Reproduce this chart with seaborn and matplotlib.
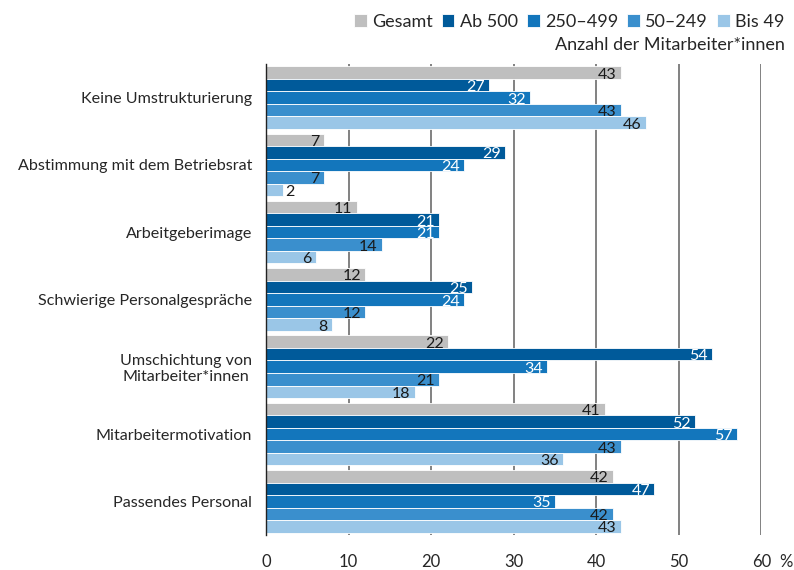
import pandas as pd
import numpy as np
import matplotlib
matplotlib.use("Agg")
import matplotlib.pyplot as plt
import seaborn as sns

# chart data
categories = [
    "Keine Umstrukturierung",
    "Abstimmung mit dem Betriebsrat",
    "Arbeitgeberimage",
    "Schwierige Personalgespräche",
    "Umschichtung von\nMitarbeiter*innen",
    "Mitarbeitermotivation",
    "Passendes Personal",
]
series = ["Gesamt", "Ab 500", "250–499", "50–249", "Bis 49"]
gesamt = [43, 7, 11, 12, 22, 41, 42]
ab500 = [27, 29, 21, 25, 54, 52, 47]
s250_499 = [32, 24, 21, 24, 34, 57, 35]
s50_249 = [43, 7, 14, 12, 21, 43, 42]
bis49 = [46, 2, 6, 8, 18, 36, 43]
x_ticks = [0, 10, 20, 30, 40, 50, 60]

colors = ["#bfbfbf", "#005a9a", "#1376bc", "#3a8fcd", "#9ac6e7"]
label_colors = ["#1a1a1a", "white", "white", "#1a1a1a", "#1a1a1a"]

# long table for seaborn
rows = []
for name, vals in zip(series, [gesamt, ab500, s250_499, s50_249, bis49]):
    for cat, v in zip(categories, vals):
        rows.append({"Kategorie": cat, "Wert": v, "Gruppe": name})
df = pd.DataFrame(rows)

sns.set_style("white")
plt.rcParams["font.family"] = ["Lato", "DejaVu Sans"]

fig = plt.figure(figsize=(7.94, 5.70), dpi=100)
ax = fig.add_axes([0.335, 0.0614, 0.624, 0.8266])

sns.barplot(data=df, y="Kategorie", x="Wert", hue="Gruppe", orient="h",
            palette=colors, width=0.93, edgecolor="white", linewidth=0.6,
            saturation=1, ax=ax, legend=True)

ax.set_xlim(0, 60)
ax.set_ylim(6.5, -0.5)
ax.set_xticks(x_ticks)
ax.set_xticklabels([str(t) for t in x_ticks], fontsize=12)
ax.tick_params(axis="x", length=0, pad=14)
ax.xaxis.grid(True, color="#5f5f5f", linewidth=1.1)
ax.set_axisbelow(True)
ax.set_xlabel("")
ax.set_ylabel("")
# percent sign next to the last tick label
ax.annotate("%", xy=(60, 0), xycoords=("data", "axes fraction"),
            xytext=(13, -14), textcoords="offset points", fontsize=12,
            ha="left", va="top")

# category labels, ticks at group boundaries
ax.set_yticks(range(len(categories)))
ax.set_yticklabels(categories, fontsize=11.6, multialignment="center")
ax.tick_params(axis="y", which="major", length=0, pad=10)
ax.set_yticks(np.arange(-0.5, len(categories), 1), minor=True)
ax.tick_params(axis="y", which="minor", length=5, width=1, color="#222222",
               direction="out")

for side in ["top", "right", "bottom"]:
    ax.spines[side].set_visible(False)
ax.spines["left"].set_color("#222222")
ax.spines["left"].set_linewidth(1)

# value labels
for cont, lc in zip(ax.containers, label_colors):
    for bar in cont:
        w = bar.get_width()
        yc = bar.get_y() + bar.get_height() / 2
        if w < 4:
            ax.annotate(f"{w:.0f}", (w, yc), xytext=(2, -1.5), textcoords="offset points",
                        ha="left", va="center", fontsize=11.5, color="#1a1a1a")
        else:
            ax.annotate(f"{w:.0f}", (w, yc), xytext=(-3, -1.5), textcoords="offset points",
                        ha="right", va="center", fontsize=11.5, color=lc)

# legend on top
handles, labels = ax.get_legend_handles_labels()
ax.legend(handles, labels, ncol=5, frameon=False, fontsize=13,
          loc="lower right", bbox_to_anchor=(0.988, 0.948), bbox_transform=fig.transFigure,
          handlelength=0.7, handleheight=0.7, handletextpad=0.3, columnspacing=0.5,
          borderaxespad=0, borderpad=0)
fig.text(0.988, 0.921, "Anzahl der Mitarbeiter*innen", ha="right", va="center",
         fontsize=13)

fig.savefig("out.png", dpi=100)
